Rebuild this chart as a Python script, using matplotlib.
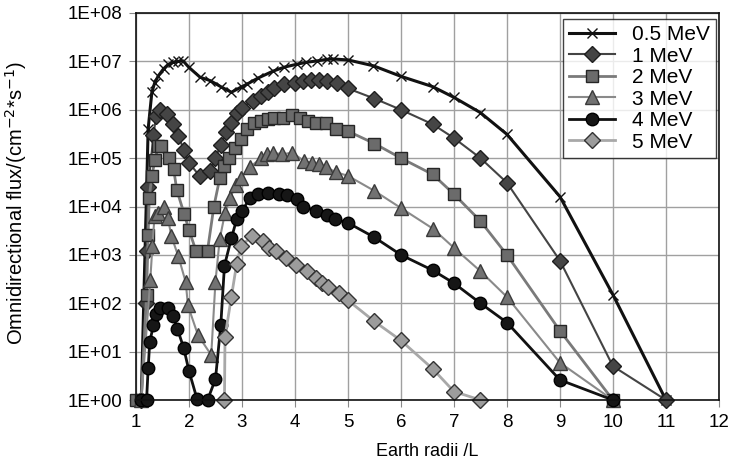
import math

import matplotlib
matplotlib.use("Agg")
import matplotlib.pyplot as plt
from matplotlib.ticker import FixedLocator, FuncFormatter

# Omnidirectional electron flux vs L
L_05 = [1.1, 1.23, 1.3, 1.35, 1.42, 1.52, 1.61, 1.7, 1.8, 1.89, 2.0, 2.21, 2.4, 2.6, 2.8,
        3.0, 3.1, 3.3, 3.59, 3.8, 4.03, 4.2, 4.41, 4.6, 4.72, 5.0, 5.48, 6.0, 6.6, 7.0,
        7.5, 8.0, 9.0, 10.0, 11.0]
flux_05 = [1, 4.0e5, 2.3e6, 3.5e6, 5.0e6, 7.0e6, 8.7e6, 9.5e6, 1.0e7, 1.02e7, 7.5e6, 4.7e6,
           4.0e6, 3.0e6, 2.3e6, 3.0e6, 3.4e6, 4.5e6, 6.3e6, 7.6e6, 8.7e6, 9.5e6, 1.02e7,
           1.1e7, 1.12e7, 1.07e7, 8.1e6, 4.9e6, 3.0e6, 1.8e6, 8.7e5, 3.1e5, 1.6e4, 150, 1]

L_1 = [1.1, 1.18, 1.2, 1.23, 1.33, 1.38, 1.45, 1.58, 1.7, 1.8, 1.9, 2.0, 2.2, 2.4, 2.5,
       2.6, 2.7, 2.8, 2.9, 3.0, 3.2, 3.35, 3.5, 3.6, 3.8, 4.0, 4.15, 4.3, 4.45, 4.6, 4.8,
       5.0, 5.5, 6.0, 6.6, 7.0, 7.5, 8.0, 9.0, 10.0, 11.0]
flux_1 = [1, 100, 1200, 2.5e4, 3.0e5, 7.4e5, 1.0e6, 8.1e5, 5.0e5, 2.9e5, 1.5e5, 8.0e4,
          4.3e4, 5.4e4, 1.0e5, 1.9e5, 3.4e5, 5.4e5, 8.7e5, 1.1e6, 1.55e6, 1.95e6, 2.3e6,
          2.75e6, 3.4e6, 3.6e6, 4.0e6, 4.2e6, 4.2e6, 4.0e6, 3.5e6, 2.75e6, 1.7e6, 1.0e6,
          5.0e5, 2.6e5, 1.0e5, 3.1e4, 760, 5, 1]

L_2 = [1.0, 1.1, 1.2, 1.23, 1.25, 1.3, 1.36, 1.42, 1.47, 1.62, 1.71, 1.77, 1.91, 2.0, 2.13,
       2.35, 2.47, 2.58, 2.67, 2.76, 2.86, 2.98, 3.1, 3.22, 3.35, 3.5, 3.6, 3.78, 3.95,
       4.1, 4.25, 4.4, 4.58, 4.78, 5.0, 5.5, 6.0, 6.6, 7.0, 7.5, 8.0, 9.0, 10.0]
flux_2 = [1, 1, 150, 2600, 1.5e4, 4.3e4, 9.3e4, 1.8e5, 1.8e5, 1.0e5, 6.0e4, 2.2e4, 7000,
          3300, 1230, 1230, 1.0e4, 3.8e4, 6.9e4, 1.0e5, 1.65e5, 2.5e5, 4.0e5, 5.4e5,
          5.9e5, 6.3e5, 6.9e5, 6.9e5, 7.8e5, 6.9e5, 5.9e5, 5.4e5, 5.2e5, 4.0e5, 3.6e5,
          2.0e5, 1.0e5, 4.6e4, 1.8e4, 5000, 1000, 27, 1]

L_3 = [1.1, 1.27, 1.31, 1.35, 1.42, 1.52, 1.6, 1.67, 1.8, 1.94, 1.98, 2.17, 2.42, 2.5,
       2.58, 2.68, 2.78, 2.88, 2.98, 3.15, 3.36, 3.48, 3.58, 3.76, 3.95, 4.17, 4.33, 4.45,
       4.58, 4.78, 5.0, 5.5, 6.0, 6.6, 7.0, 7.5, 8.0, 9.0, 10.0]
flux_3 = [1, 300, 1500, 6300, 7400, 1.0e4, 5900, 2400, 930, 270, 90, 22, 8.5, 280, 2100,
          7400, 1.5e4, 2.8e4, 3.9e4, 6.5e4, 1.0e5, 1.2e5, 1.3e5, 1.2e5, 1.3e5, 8.7e4,
          7.9e4, 7.4e4, 6.5e4, 5.1e4, 4.3e4, 2.1e4, 9300, 3500, 1400, 460, 135, 5.9, 1]

L_4 = [1.1, 1.2, 1.23, 1.26, 1.33, 1.38, 1.45, 1.6, 1.7, 1.78, 1.9, 2.0, 2.15, 2.35, 2.5,
       2.6, 2.67, 2.8, 2.9, 3.0, 3.15, 3.3, 3.5, 3.7, 3.85, 4.03, 4.16, 4.4, 4.6, 4.75,
       5.0, 5.5, 6.0, 6.6, 7.0, 7.5, 8.0, 9.0, 10.0]
flux_4 = [1, 1, 4.5, 16, 35, 60, 80, 78, 55, 30, 12, 4, 1.07, 1, 2.7, 35, 600, 2200, 5400,
          8000, 1.5e4, 1.78e4, 1.9e4, 1.8e4, 1.7e4, 1.4e4, 1.0e4, 8000, 6800, 5500, 4600,
          2300, 1000, 480, 260, 100, 40, 2.6, 1]

L_5 = [2.67, 2.68, 2.8, 2.9, 2.98, 3.19, 3.39, 3.51, 3.64, 3.83, 4.02, 4.22, 4.39, 4.51,
       4.63, 4.84, 5.0, 5.5, 6.0, 6.6, 7.0, 7.5]
flux_5 = [1, 20, 135, 650, 1550, 2400, 1900, 1400, 1200, 870, 630, 460, 330, 260, 220, 160,
          115, 42, 17, 4.4, 1.5, 1]

x_ticks = list(range(1, 13))
y_ticks = [10 ** k for k in range(0, 9)]

# (label, L, flux, marker, size, face, edge, line colour, line width)
SERIES = [
    ("0.5 MeV", L_05, flux_05, "x", 7, "#111111", "#111111", "#111111", 2.2),
    ("1 MeV", L_1, flux_1, "D", 8.5, "#454545", "#1e1e1e", "#444444", 1.5),
    ("2 MeV", L_2, flux_2, "s", 9, "#6b6b6b", "#262626", "#7a7a7a", 2.0),
    ("3 MeV", L_3, flux_3, "^", 10, "#727272", "#3a3a3a", "#8a8a8a", 1.5),
    ("4 MeV", L_4, flux_4, "o", 9, "#161616", "#000000", "#111111", 2.0),
    ("5 MeV", L_5, flux_5, "D", 8, "#9c9c9c", "#333333", "#a8a8a8", 2.0),
]


def main():
    plt.rcParams["font.family"] = ["Liberation Sans", "DejaVu Sans"]
    fig = plt.figure(figsize=(7.31, 4.72), dpi=100)
    ax = fig.add_axes([0.186, 0.1525, 0.7975, 0.82])

    for label, xs, ys, mk, ms, fc, ec, lc, lw in SERIES:
        ax.plot(xs, ys, color=lc, lw=lw, marker=mk, markersize=ms,
                markerfacecolor=fc, markeredgecolor=ec, markeredgewidth=1.0,
                label=label, clip_on=False)

    ax.set_yscale("log")
    ax.set_xlim(1, 12)
    ax.set_ylim(1, 1e8)
    ax.xaxis.set_major_locator(FixedLocator(x_ticks))
    ax.yaxis.set_major_locator(FixedLocator(y_ticks))
    ax.yaxis.set_minor_locator(FixedLocator([]))
    ax.yaxis.set_major_formatter(FuncFormatter(lambda v, _: "1E+%02d" % round(math.log10(v))))

    ax.grid(True, color="#a0a0a0", lw=1.0)
    ax.set_axisbelow(True)
    for s in ax.spines.values():
        s.set_color("#111111")
        s.set_linewidth(1.2)
    ax.tick_params(axis="both", which="major", labelsize=13.5, length=5,
                   color="#888888", direction="out", pad=5)

    ax.set_xlabel("Earth radii /L", fontsize=13)
    ax.xaxis.set_label_coords(0.5, -0.112)
    ax.set_ylabel("Omnidirectional flux/(cm$^{-2}$*s$^{-1}$)", fontsize=14.5)
    ax.yaxis.set_label_coords(-0.183, 0.51)

    leg = ax.legend(loc="upper right", bbox_to_anchor=(0.995, 0.985), fontsize=15,
                    frameon=True, fancybox=False, edgecolor="#111111",
                    handlelength=2.2, labelspacing=0.12, borderpad=0.3,
                    handletextpad=0.8, borderaxespad=0.0)
    leg.get_frame().set_linewidth(1.0)

    fig.savefig("out.png", dpi=100)


if __name__ == "__main__":
    main()
